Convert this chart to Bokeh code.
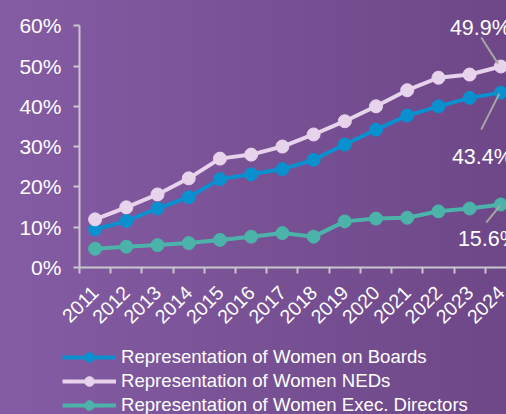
import math
from bokeh.plotting import figure
from bokeh.models import (FixedTicker, PrintfTickFormatter, Range1d, Legend, LegendItem,
                          GlobalInlineStyleSheet, ColumnDataSource)
from bokeh.core.properties import value
from bokeh.embed import file_html
from bokeh.resources import INLINE

# ---- data ----
years = ["2011", "2012", "2013", "2014", "2015", "2016", "2017",
         "2018", "2019", "2020", "2021", "2022", "2023", "2024"]
boards = [9.4, 11.5, 14.6, 17.4, 21.9, 23.1, 24.4, 26.7, 30.5, 34.2, 37.7, 40.0, 42.1, 43.4]
neds = [11.9, 14.9, 18.1, 22.1, 27.0, 28.0, 30.0, 33.0, 36.3, 40.0, 44.0, 47.1, 47.9, 49.9]
execs = [4.6, 5.1, 5.5, 6.0, 6.8, 7.6, 8.5, 7.6, 11.4, 12.1, 12.3, 13.9, 14.6, 15.6]
y_ticks = [0, 10, 20, 30, 40, 50, 60]
series_names = ["Representation of Women on Boards",
                "Representation of Women NEDs",
                "Representation of Women Exec. Directors"]

FONT = "Liberation Sans"
TXT = "#ffffff"
AXIS = "#c9c6cc"
colors = ["#0a8fcf", "#e7d4ec", "#4bb3a9"]

xs = list(range(len(years)))

# frame spans the whole canvas; axes are pinned at x=-0.5 / y=0
p = figure(width=506, height=414, output_backend="svg", toolbar_location=None,
           x_range=Range1d(-3.03, 13.18), y_range=Range1d(-36.6, 66.3),
           min_border=0)
p.background_fill_alpha = 0
p.border_fill_alpha = 0
p.outline_line_color = None
p.grid.grid_line_color = None
p.stylesheets = [GlobalInlineStyleSheet(css=
    "html, body { overflow: hidden; } "
    "html { background: linear-gradient(to right, #845ca4, #6d4787); }")]

# axes
xa = p.xaxis[0]
xa.fixed_location = 0
xa.bounds = (-0.5, 13.18)
xa.ticker = FixedTicker(ticks=xs, minor_ticks=[i - 0.5 for i in range(len(years) + 1)])
xa.major_label_overrides = {i: y for i, y in enumerate(years)}
xa.major_label_orientation = math.pi / 4
xa.major_tick_out = 0
xa.major_tick_in = 0
xa.minor_tick_out = 6
xa.minor_tick_in = 0
xa.minor_tick_line_color = AXIS
xa.minor_tick_line_width = 2
xa.axis_line_color = AXIS
xa.axis_line_width = 2
xa.major_label_text_font = FONT
xa.major_label_text_font_size = "19.5px"
xa.major_label_text_color = TXT
xa.major_label_standoff = 16

ya = p.yaxis[0]
ya.fixed_location = -0.5
ya.ticker = FixedTicker(ticks=y_ticks, minor_ticks=[])
ya.formatter = PrintfTickFormatter(format="%d%%")
ya.bounds = (y_ticks[0], y_ticks[-1])
ya.major_tick_out = 6
ya.major_tick_in = 0
ya.major_tick_line_color = AXIS
ya.major_tick_line_width = 2
ya.axis_line_color = AXIS
ya.axis_line_width = 2
ya.major_label_text_font = FONT
ya.major_label_text_font_size = "21px"
ya.major_label_text_color = TXT
ya.major_label_standoff = 12

items = []
for vals, col, name in zip([boards, neds, execs], colors, series_names):
    ln = p.line(xs, vals, line_color=col, line_width=4)
    sc = p.scatter(xs, vals, size=13, fill_color=col, line_color=col)
    items.append(LegendItem(label=name, renderers=[ln, sc]))

# end labels with leader lines
last = xs[-1]
end_vals = [neds[-1], boards[-1], execs[-1]]
end_x_off = [-51, -49, -43]
end_y_off = [-38, 64, 35]
lead_dx0 = [-0.63, -0.05, -0.02]
lead_dy0 = [7.2, -0.25, -0.25]
lead_dx1 = [-0.09, -0.63, -0.47]
lead_dy1 = [0.7, -9.2, -4.5]
p.segment(x0=[last + d for d in lead_dx0], y0=[v + d for v, d in zip(end_vals, lead_dy0)],
          x1=[last + d for d in lead_dx1], y1=[v + d for v, d in zip(end_vals, lead_dy1)],
          line_color="#a6a6a6", line_width=2)
src = ColumnDataSource(dict(x=[last] * 3, y=end_vals,
                            t=["%.1f%%" % v for v in end_vals],
                            xo=end_x_off, yo=end_y_off))
p.text(x="x", y="y", text="t", x_offset="xo", y_offset="yo", source=src,
       text_font=value(FONT), text_font_size="21.5px", text_color=TXT,
       text_align="left", text_baseline="alphabetic")

legend = Legend(items=items, location=(62, -3), orientation="vertical",
                label_text_font=FONT, label_text_font_size="18.6px", label_text_color=TXT,
                glyph_width=54, glyph_height=24, label_height=24, label_standoff=5,
                spacing=0, padding=0, margin=0,
                background_fill_alpha=0, border_line_color=None)
p.add_layout(legend, "center")

open("out.html", "w").write(file_html(p, INLINE))
